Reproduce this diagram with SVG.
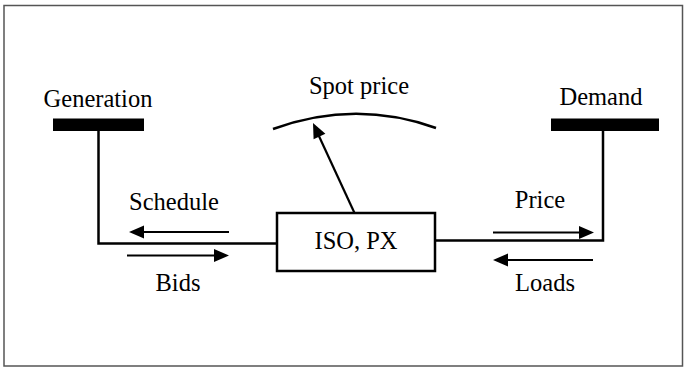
<svg xmlns="http://www.w3.org/2000/svg" width="686" height="367" viewBox="0 0 686 367">
<defs>
<style>
.t{font-family:"Liberation Serif","Times New Roman",serif;font-size:24.5px;fill:#000}
.w{stroke:#000;stroke-width:2.5;fill:none}
.a{stroke:#000;stroke-width:2.2;fill:none}
.h{fill:#000;stroke:none}
</style>
</defs>
<rect x="4" y="5.5" width="678.5" height="360.5" fill="#fff" stroke="#555" stroke-width="1.5"/>
<g id="connectors">
<path class="w" d="M98.5,131 V243.5 H277"/>
<path class="w" d="M435,240.5 H603 V131"/>
<path class="w" d="M273,129 Q355,99 436,128"/>
<line class="a" x1="354.5" y1="213" x2="318" y2="134"/>
<polygon class="h" points="313,123 325.4,133.7 313.6,139.2"/>
<line class="a" x1="229" y1="232" x2="140" y2="232"/>
<polygon class="h" points="129,232 144,225.5 144,238.5"/>
<line class="a" x1="127" y1="255.5" x2="218" y2="255.5"/>
<polygon class="h" points="229,255.5 214,249 214,262"/>
<line class="a" x1="493" y1="232.5" x2="583" y2="232.5"/>
<polygon class="h" points="594,232.5 579,226 579,239"/>
<line class="a" x1="593" y1="260" x2="504" y2="260"/>
<polygon class="h" points="493,260 508,253.5 508,266.5"/>
</g>
<g id="generation">
<rect x="53" y="118.5" width="91" height="12.5" fill="#000"/>
<text class="t" x="98" y="106.5" text-anchor="middle">Generation</text>
</g>
<g id="demand">
<rect x="551" y="118.5" width="108" height="12.5" fill="#000"/>
<text class="t" x="601" y="105" text-anchor="middle">Demand</text>
</g>
<g id="iso">
<rect x="277" y="213" width="158" height="58" fill="#fff" stroke="#000" stroke-width="2.5"/>
<text class="t" x="356" y="248.5" text-anchor="middle">ISO, PX</text>
</g>
<g id="labels">
<text class="t" x="359" y="93.5" text-anchor="middle">Spot price</text>
<text class="t" x="174" y="209.5" text-anchor="middle">Schedule</text>
<text class="t" x="178" y="290.5" text-anchor="middle">Bids</text>
<text class="t" x="540" y="208" text-anchor="middle">Price</text>
<text class="t" x="545" y="290.5" text-anchor="middle">Loads</text>
</g>
</svg>
